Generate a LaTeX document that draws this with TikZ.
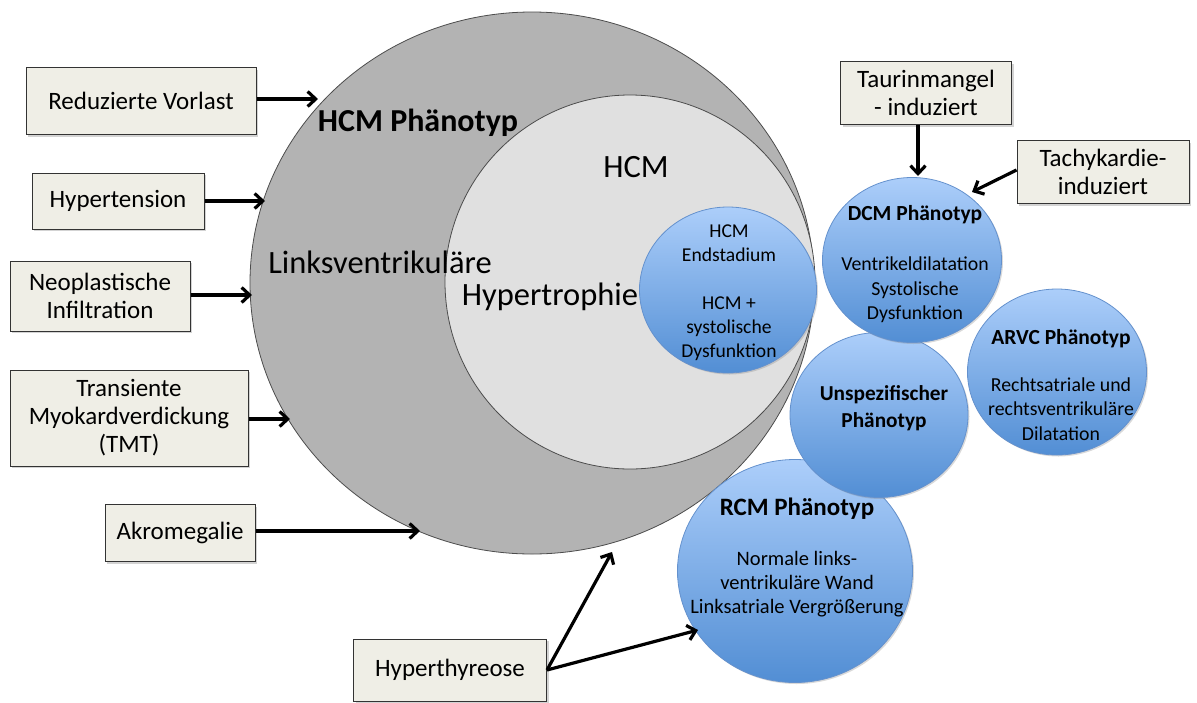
\documentclass[tikz,border=0pt]{standalone}
\usepackage{fontspec}
\setmainfont{Carlito}
\usetikzlibrary{positioning, calc, shapes.geometric, shadows, arrows.meta}
\definecolor{boxfill}{RGB}{239,238,230}
\definecolor{outergray}{RGB}{179,179,179}
\definecolor{innergray}{RGB}{224,224,224}
\definecolor{bluetop}{RGB}{172,206,250}
\definecolor{bluebot}{RGB}{82,142,212}
\definecolor{blueedge}{RGB}{100,145,205}
\newcommand{\phentitle}{\bfseries\fontsize{21.5}{24}\selectfont}

\begin{document}
\begin{tikzpicture}[x=1pt, y=-1pt,
	cause/.style={draw=black!80, line width=1pt, fill=boxfill, align=center, font=\fontsize{25}{28}\selectfont, drop shadow={shadow xshift=2pt, shadow yshift=-2pt, opacity=0.35}},
	pheno/.style={ellipse, draw=blueedge, line width=0.8pt, top color=bluetop, bottom color=bluebot, inner sep=0pt, drop shadow={shadow xshift=1.5pt, shadow yshift=-1.5pt, opacity=0.3}},
	ptext/.style={align=center, font=\fontsize{19.8}{24.5}\selectfont},
	arr/.style={line width=3.2pt, -{Straight Barb[length=8pt, width=15pt]}}]
	\useasboundingbox (0,0) rectangle (1197,702);

	% big circles
	\node (hcmp) at (532,283) [ellipse, draw=black!70, line width=0.8pt, fill=outergray, minimum width=564, minimum height=542, inner sep=0pt] {};
	\node (hcm) at (630,282) [ellipse, draw=black!70, line width=0.8pt, fill=innergray, minimum width=370, minimum height=374, inner sep=0pt] {};
	\node (hcmplabel) at (418,123) [font=\bfseries\fontsize{32}{36}\selectfont] {HCM Phänotyp};
	\node (lvlabel) at (380,262) [font=\fontsize{32.5}{36}\selectfont] {Linksventrikuläre};
	\node (hyplabel) at (550,297) [font=\fontsize{32.5}{36}\selectfont] {Hypertrophie};
	\node (hcmlabel) at (636,167) [font=\fontsize{32.5}{36}\selectfont] {HCM};

	% phenotype bubbles
	\node (end) at (728,290) [pheno, minimum width=177, minimum height=166] {};
	\node (endtxt) at (729,293) [ptext, font=\fontsize{19.6}{24}\selectfont] {HCM\\Endstadium\\[24pt]HCM +\\systolische\\Dysfunktion};
	\node (rcm) at (795,571) [pheno, minimum width=235, minimum height=223] {};
	\node (rcmtxt) at (797,557) [ptext, font=\fontsize{20.5}{24}\selectfont] {{\bfseries\fontsize{25}{24}\selectfont RCM Phänotyp}\\[26pt]Normale links-\\ventrikuläre Wand\\Linksatriale Vergrößerung};
	\node (unsp) at (879,415) [pheno, minimum width=178, minimum height=165] {};
	\node (unsptxt) at (884,408) [ptext, font=\bfseries\fontsize{21.3}{26.5}\selectfont] {Unspezifischer\\Phänotyp};
	\node (dcm) at (912,260) [pheno, minimum width=179, minimum height=165] {};
	\node (dcmtxt) at (915,264) [ptext] {{\phentitle DCM Phänotyp}\\[26pt]Ventrikeldilatation\\Systolische\\Dysfunktion};
	\node (arvc) at (1057,372) [pheno, minimum width=179, minimum height=166] {};
	\node (arvctxt) at (1061,385) [ptext] {{\phentitle ARVC Phänotyp}\\[22pt]Rechtsatriale und\\rechtsventrikuläre\\Dilatation};

	% causes
	\node (vorlast) at (141,101) [cause, minimum width=230, minimum height=67] {Reduzierte Vorlast};
	\node (hypert) at (118,201) [cause, minimum width=172, minimum height=56] {Hypertension};
	\node (neopl) at (100,296) [cause, minimum width=180, minimum height=70] {Neoplastische\\Infiltration};
	\node (tmt) at (129,418) [cause, minimum width=238, minimum height=96] {Transiente\\Myokardverdickung\\(TMT)};
	\node (akro) at (180,533) [cause, minimum width=150, minimum height=57] {Akromegalie};
	\node (thyr) at (450,670) [cause, minimum width=193, minimum height=62] {Hyperthyreose};
	\node (taurin) at (926,93) [cause, minimum width=171, minimum height=63] {Taurinmangel\\- induziert};
	\node (tachy) at (1103,172) [cause, minimum width=172, minimum height=63] {Tachykardie-\\induziert};

	\coordinate (tvorlast) at (318,99);
	\coordinate (thypert) at (265,201);
	\coordinate (tneopl) at (252,295);
	\coordinate (ttmt) at (290,419);
	\coordinate (takro) at (420,531);
	\coordinate (tthyra) at (612,552);
	\coordinate (tthyrb) at (698,630);
	\coordinate (ttaurin) at (918,176);
	\coordinate (ttachy) at (972,192);

	\draw[arr] (vorlast.east |- tvorlast) to (tvorlast);
	\draw[arr] (hypert.east) to (thypert);
	\draw[arr] (neopl.east |- tneopl) to (tneopl);
	\draw[arr] (tmt.east |- ttmt) to (ttmt);
	\draw[arr] (akro.east |- takro) to (takro);
	\draw[arr] (thyr.east) to (tthyra);
	\draw[arr] (thyr.east) to (tthyrb);
	\draw[arr] (ttaurin |- taurin.south) to (ttaurin);
	\draw[arr] ([yshift=2pt]tachy.west) to (ttachy);
\end{tikzpicture}
\end{document}
